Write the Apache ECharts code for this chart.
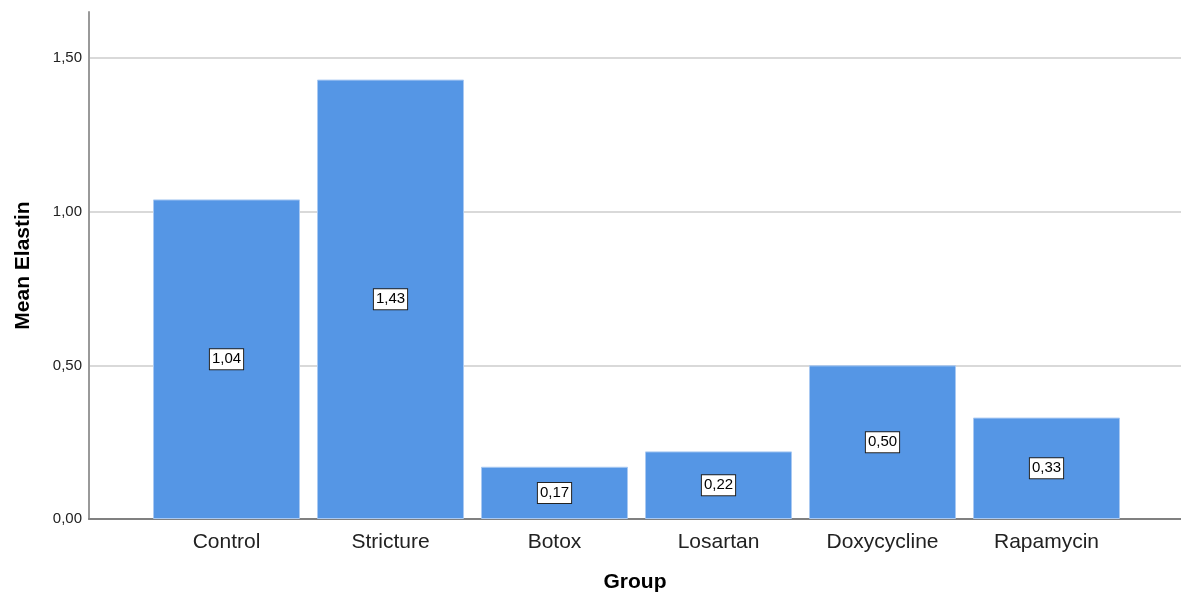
<!DOCTYPE html>
<html>
<head>
<meta charset="utf-8">
<script src="https://cdn.jsdelivr.net/npm/echarts@6/dist/echarts.min.js"></script>
<style>
  html, body { margin: 0; padding: 0; background: #fff; }
  #chart { width: 1181px; height: 595px; }
</style>
</head>
<body>
<div id="chart"></div>
<script>
// Mean elastin per treatment group
const groups = ['Control', 'Stricture', 'Botox', 'Losartan', 'Doxycycline', 'Rapamycin'];
const meanElastin = [1.04, 1.43, 0.17, 0.22, 0.50, 0.33];
const yTicks = [0, 0.5, 1.0, 1.5];

const Y_MAX = 1.65;
const fmt = v => v.toFixed(2).replace('.', ',');

const chart = echarts.init(document.getElementById('chart'), null, { renderer: 'canvas' });

chart.setOption({
  animation: false,
  backgroundColor: '#ffffff',
  textStyle: { fontFamily: 'Liberation Sans, Arial, sans-serif' },
  grid: [
    // frame grid: axes lines and gridlines across the full plot width
    { left: 89, right: 0, top: 12, bottom: 76, containLabel: false, outerBoundsMode: 'none' },
    // bar grid: inset so the category bands sit inside the frame
    { left: 144.5, right: 52.5, top: 12, bottom: 76, containLabel: false, outerBoundsMode: 'none' }
  ],
  xAxis: [
    {
      gridIndex: 0, type: 'value', min: 0, max: 1,
      axisLine: { show: true, onZero: false, lineStyle: { color: '#808080', width: 2 } },
      axisTick: { show: false }, axisLabel: { show: false }, splitLine: { show: false },
      name: 'Group', nameLocation: 'middle', nameGap: 53,
      nameTextStyle: { fontSize: 21, fontWeight: 'bold', color: '#000' }
    },
    {
      gridIndex: 1, type: 'category', data: groups,
      axisLine: { show: false }, axisTick: { show: false },
      axisLabel: { fontSize: 21, color: '#222', margin: 13 }
    }
  ],
  yAxis: [
    {
      gridIndex: 0, type: 'value', min: 0, max: Y_MAX, interval: 0.5,
      axisLine: { show: true, lineStyle: { color: '#999999', width: 2 } },
      axisTick: { show: false },
      axisLabel: {
        fontSize: 15, color: '#222', margin: 7, showMaxLabel: false,
        formatter: v => yTicks.some(t => Math.abs(t - v) < 1e-9) ? fmt(v) : ''
      },
      splitLine: { show: true, showMaxLine: false, showMinLine: false, lineStyle: { color: '#cccccc', width: 1.5 } },
      name: 'Mean Elastin', nameLocation: 'middle', nameGap: 55, nameRotate: 90,
      nameTextStyle: { fontSize: 21, fontWeight: 'bold', color: '#000' }
    },
    {
      gridIndex: 1, type: 'value', min: 0, max: Y_MAX,
      show: false, splitLine: { show: false }
    }
  ],
  series: [
    {
      type: 'bar',
      xAxisIndex: 1, yAxisIndex: 1,
      data: meanElastin,
      barWidth: 147,
      itemStyle: { color: '#5596e5', borderColor: '#a9c9f2', borderWidth: 1 },
      label: {
        show: true, position: 'inside',
        formatter: p => fmt(p.value),
        fontSize: 15, color: '#000',
        backgroundColor: '#ffffff', borderColor: '#222', borderWidth: 1,
        padding: [3, 2, 2, 2]
      }
    }
  ]
});
</script>
</body>
</html>
